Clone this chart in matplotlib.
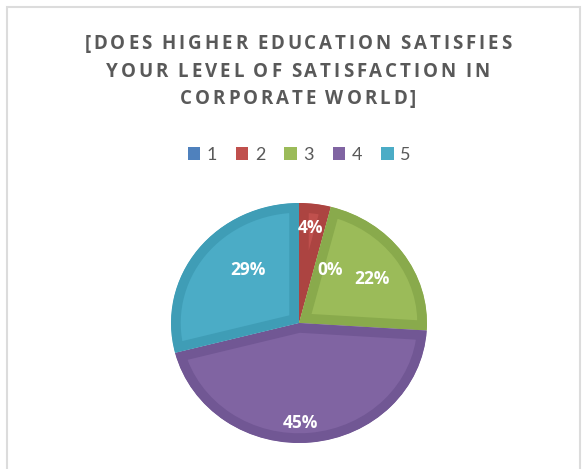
import matplotlib
matplotlib.use("Agg")
import matplotlib.pyplot as plt
from matplotlib.patches import Rectangle
from matplotlib.font_manager import FontProperties, findfont, get_font

plt.rcParams['font.family'] = ['Open Sans', 'DejaVu Sans']

# Survey answers (scale 1-5) and their share of responses
categories = ['1', '2', '3', '4', '5']
shares = [0, 4, 22, 45, 29]
colors = ['#4f81bd', '#c0504d', '#9bbb59', '#8064a2', '#4bacc6']
rim_colors = ['#44709f', '#ac4441', '#89aa4c', '#715794', '#3f9db6']

title_lines = ["[DOES HIGHER EDUCATION SATISFIES",
               "YOUR LEVEL OF SATISFACTION IN",
               "CORPORATE WORLD]"]

# label anchor points (axes data units, pie radius = 1)
label_pos = [(0.24, 0.44), (0.09, 0.79), (0.57, 0.37), (0.01, -0.83), (-0.40, 0.44)]

W, H = 585, 469
DPI = 100
fig = plt.figure(figsize=(W / DPI, H / DPI), dpi=DPI)
fig.patch.set_facecolor('white')

# chart frame
fig.patches.append(Rectangle((7 / W, -0.05), (580 - 7) / W, (H - 7) / H + 0.05,
                             transform=fig.transFigure, fill=False,
                             edgecolor='#dcdcdc', linewidth=1.5))

# title with letter tracking, drawn glyph by glyph
title_size = 13.5
title_prop = FontProperties(family='Open Sans', weight='bold', size=title_size)
ft = get_font(findfont(title_prop))
ft.set_size(title_size, DPI)


def advances(s):
    return [ft.load_char(ord(c)).linearHoriAdvance / 65536.0 * (0.8 if c == ' ' else 1.0)
            for c in s]


first_adv = advances(title_lines[0])
tracking = (427 - sum(first_adv)) / (len(title_lines[0]) - 1)
for line, y in zip(title_lines, [44, 72, 99]):
    adv = advances(line)
    total = sum(adv) + tracking * (len(line) - 1)
    x = 298 - total / 2
    for c, a in zip(line, adv):
        if c != ' ':
            fig.text(x / W, 1 - y / H, c, ha='left', va='center',
                     fontproperties=title_prop, color='#595959')
        x += a + tracking

cx, cy, rx, ry = 299, 323, 128, 120
ax = fig.add_axes([(cx - rx) / W, 1 - (cy + ry) / H, 2 * rx / W, 2 * ry / H])
ax.axis('off')

wedges, _ = ax.pie(shares, colors=colors, startangle=90, counterclock=False,
                   radius=1, center=(0, 0), frame=False)
# inner bevel: stroke each wedge and keep only the half inside it
for w, rc in zip(wedges, rim_colors):
    w.set_edgecolor(rc)
    w.set_linewidth(14)
    w.set_clip_on(True)
    w.set_clip_path(w)
ax.set_aspect('auto')
ax.set_xlim(-1, 1)
ax.set_ylim(-1, 1)

for v, (x, y) in zip(shares, label_pos):
    ax.text(x, y, f"{v}%", ha='center', va='center', color='white',
            fontsize=12.5, fontweight='bold')

# legend row
handles = [Rectangle((0, 0), 1, 1, facecolor=c, edgecolor='none') for c in colors]
fig.legend(handles, categories, loc='center', bbox_to_anchor=(299 / W, 1 - 155 / H),
           ncol=5, frameon=False, handlelength=0.7,
           handleheight=0.7, handletextpad=0.35, columnspacing=1.05,
           labelcolor='#595959', prop={'family': ['Lato', 'DejaVu Sans'], 'size': 13})

fig.savefig('out.png', dpi=DPI, facecolor='white')
